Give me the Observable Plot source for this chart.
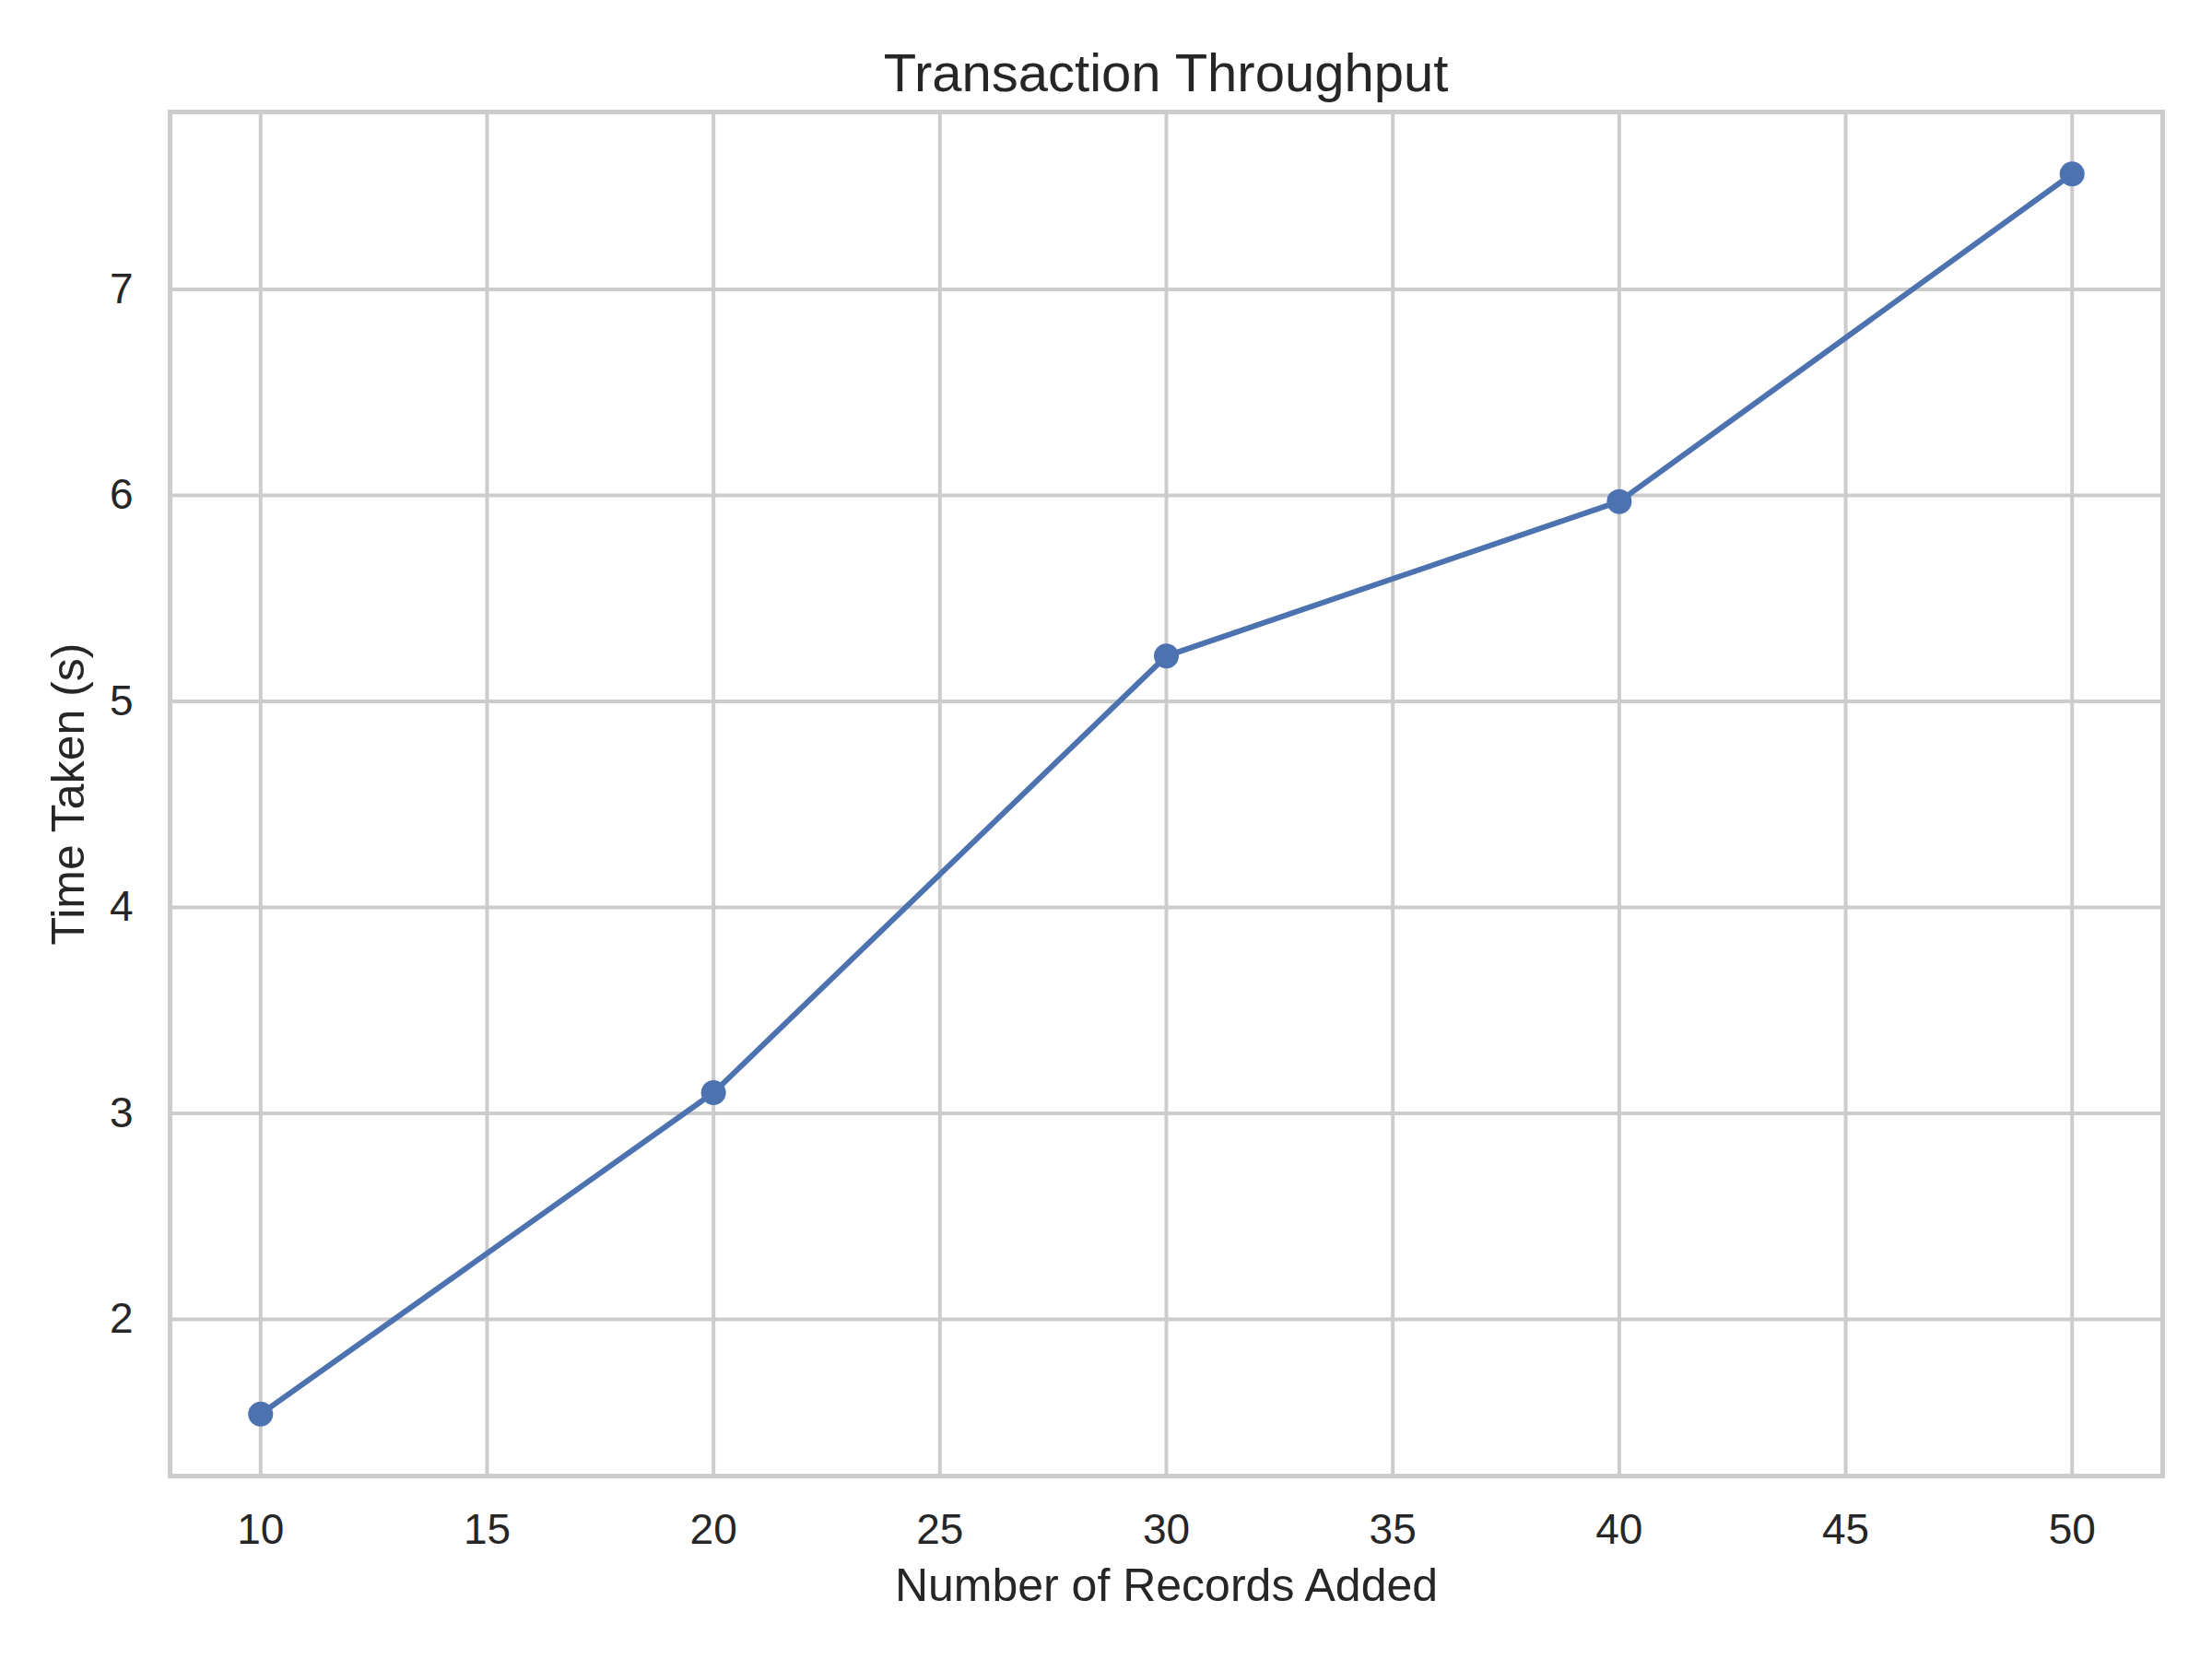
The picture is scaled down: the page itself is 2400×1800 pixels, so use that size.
<!DOCTYPE html>
<html><head><meta charset="utf-8">
<script src="https://cdn.jsdelivr.net/npm/d3@7"></script>
<script src="https://cdn.jsdelivr.net/npm/@observablehq/plot@0.6"></script>
<style>
body{margin:0;background:#fff;}
#title{box-sizing:content-box;width:2162px;height:50px;padding:50px 54px 0 184px;text-align:center;font-family:"Liberation Sans",Arial,sans-serif;font-size:58px;line-height:58px;color:#262626;white-space:nowrap;}
#chart svg{display:block;}
</style></head><body>
<div id="title"></div>
<div id="chart"></div>
<script>
const titleText = "Transaction Throughput";
const xLabel = "Number of Records Added";
const yLabel = "Time Taken (s)";
const records = [10, 20, 30, 40, 50];
const timeTaken = [1.54, 3.10, 5.22, 5.97, 7.56];
const xTicks = [10, 15, 20, 25, 30, 35, 40, 45, 50];
const yTicks = [2, 3, 4, 5, 6, 7];

document.getElementById("title").textContent = titleText;

const data = records.map((x, i) => ({x, y: timeTaken[i]}));
const pad = (e) => { const d = (e[1] - e[0]) * 0.05; return [e[0] - d, e[1] + d]; };
const font = '"Liberation Sans", Arial, sans-serif';
const grid = "#cccccc";
const blue = "#4c72b0";

const chart = Plot.plot({
  width: 2400, height: 1700,
  marginTop: 21, marginBottom: 199, marginLeft: 184, marginRight: 54,
  style: {fontFamily: font, color: "#262626", background: "#ffffff"},
  x: {domain: pad(d3.extent(records))},
  y: {domain: pad(d3.extent(timeTaken))},
  marks: [
    Plot.gridX(xTicks, {stroke: grid, strokeOpacity: 1, strokeWidth: 4}),
    Plot.gridY(yTicks, {stroke: grid, strokeOpacity: 1, strokeWidth: 4}),
    Plot.frame({stroke: grid, strokeOpacity: 1, strokeWidth: 5}),
    Plot.axisX(xTicks, {tickSize: 0, tickPadding: 41, fontSize: 46, label: null, tickFormat: d => String(d)}),
    Plot.axisY(yTicks, {tickSize: 0, tickPadding: 40, fontSize: 46, label: null, tickFormat: d => String(d)}),
    Plot.line(data, {x: "x", y: "y", stroke: blue, strokeWidth: 6}),
    Plot.dot(data, {x: "x", y: "y", r: 13.5, fill: blue, stroke: "none"}),
    Plot.text([xLabel], {text: d => d, frameAnchor: "bottom", textAnchor: "middle", lineAnchor: "bottom", dy: 135, fontSize: 50}),
    Plot.text([yLabel], {text: d => d, frameAnchor: "left", textAnchor: "middle", lineAnchor: "bottom", rotate: -90, dx: -94, fontSize: 50})
  ]
});
document.getElementById("chart").appendChild(chart);
</script>
</body></html>
